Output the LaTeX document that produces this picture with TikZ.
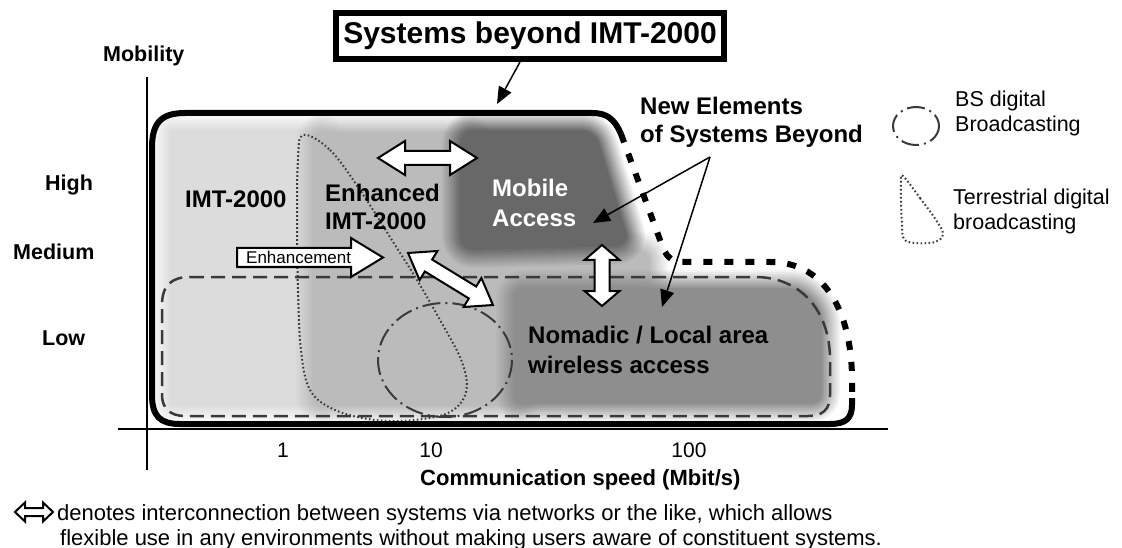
\documentclass[tikz,border=0pt]{standalone}
\usepackage{fontspec}
\setmainfont{Liberation Sans}
\usetikzlibrary{arrows.meta,calc}

\definecolor{lightreg}{HTML}{DCDCDC}
\definecolor{midreg}{HTML}{BBBBBB}
\definecolor{darkreg}{HTML}{686868}
\definecolor{nomadreg}{HTML}{8E8E8E}
\definecolor{lineink}{HTML}{3A3A3A}

% soft-edged grey area: nested strokes whose opacities give a linear
% fall-off outside the solid core
\newcommand\softarea[2]{%
  \foreach \k [evaluate=\k as \op using 1/\k, evaluate=\k as \lw using 4*\k] in {1,...,10}
    {\draw[#1,line width=\lw pt,opacity=\op,line join=round] #2;}
  \fill[#1] #2;}

% white double-headed block arrow: centre x, centre y, angle, half length,
% shaft half width, head half width, head length
\newcommand\dblarrow[7]{%
  \begin{scope}[shift={(#1,#2)},rotate=#3]
    \draw[blockarrow] (-#4,0) -- (-#4+#7,#6) -- (-#4+#7,#5) -- (#4-#7,#5) -- (#4-#7,#6)
      -- (#4,0) -- (#4-#7,-#6) -- (#4-#7,-#5) -- (-#4+#7,-#5) -- (-#4+#7,-#6) -- cycle;
  \end{scope}}

\begin{document}
\begin{tikzpicture}[x=1pt,y=-1pt,
  axisline/.style={line width=1.5pt,black},
  outline/.style={line width=6pt,black,line cap=butt},
  outlinedash/.style={line width=6pt,black,dash pattern=on 9pt off 12pt},
  nomadline/.style={line width=2.5pt,draw=lineink,dash pattern=on 14pt off 7pt},
  bsline/.style={line width=2pt,draw=lineink,dash pattern=on 18pt off 5pt on 2pt off 5pt},
  terrline/.style={line width=2pt,draw=lineink,dash pattern=on 1.6pt off 2.4pt},
  blockarrow/.style={draw=black,line width=2pt,fill=white,line join=miter},
  pointer/.style={line width=1.5pt,black,-{Triangle[length=17pt,width=14pt]}},
  bigbold/.style={font=\fontsize{24}{28}\selectfont\bfseries,anchor=base west,inner sep=0pt},
  axisbold/.style={font=\fontsize{21.5}{26}\selectfont\bfseries,anchor=base west,inner sep=0pt},
  plaintxt/.style={font=\fontsize{21.5}{26}\selectfont,anchor=base west,inner sep=0pt},
  ticktxt/.style={font=\fontsize{21}{25}\selectfont,anchor=base,inner sep=0pt},
  notetxt/.style={font=\fontsize{22}{25}\selectfont,anchor=base west,inner sep=0pt}]

\useasboundingbox (0,0) rectangle (1122,548);

% ---- grey areas of the capability map ----
\softarea{lightreg}{(172,132) rectangle (320,404)}
\softarea{midreg}{[rounded corners=8pt] (316,134) -- (472,134) -- (472,252) -- (648,252)
  -- (648,284) -- (520,284) -- (520,404) -- (316,404) -- cycle}
\softarea{nomadreg}{[rounded corners=8pt] (516,290) -- (782,290) .. controls (805,290) and (820,307) .. (820,330)
  -- (820,402) -- (516,402) -- cycle}
\softarea{darkreg}{[rounded corners=12pt] (462,132) -- (594,132) -- (628,244) -- (462,248) -- cycle}

% ---- nomadic / local area envelope ----
\draw[nomadline] (190,277) -- (755,277) .. controls (800,277) and (830,310) .. (830,360)
  -- (830,395) .. controls (830,410) and (822,416) .. (808,416) -- (185,416)
  .. controls (170,416) and (162,408) .. (162,395) -- (162,305)
  .. controls (162,285) and (172,277) .. (190,277) -- cycle;

% ---- broadcasting footprints ----
\draw[bsline] (445,360) ellipse [x radius=67, y radius=57];
\draw[terrline] plot[smooth cycle,tension=0.6] coordinates {(303,135) (330,150) (360,190) (395,245)
  (417,280) (440,320) (462,362) (466,392) (450,412) (415,420) (375,420) (335,410) (310,390)
  (301,350) (298,290) (297,220) (298,160)};

% ---- axes ----
\coordinate (yTop) at (147,77);
\coordinate (yBot) at (147,470);
\coordinate (xLeft) at (118,429);
\coordinate (xRight) at (888,429);
\draw[axisline] (yTop) -- (yBot);
\draw[axisline] (xLeft) -- (xRight);

% ---- outline of systems beyond IMT-2000 ----
\draw[outline] (852,398) -- (852,405) .. controls (852,418) and (846,424) .. (830,424) -- (180,424)
  .. controls (160,424) and (152,416) .. (152,395) -- (152,148)
  .. controls (152,124) and (160,113) .. (185,113) -- (592,113)
  .. controls (606,113) and (614,118) .. (621,134);
\draw[outlinedash] (621,134) -- (663,248) .. controls (668,259) and (673,262) .. (686,262)
  -- (770,262) .. controls (830,262) and (852,320) .. (852,380) -- (852,400);

% ---- interconnection arrows ----
\dblarrow{427.5}{158}{0}{49.5}{7}{17}{27}
\dblarrow{450.5}{279}{-31.5}{49.8}{7}{17}{24}
\dblarrow{602}{275.5}{-90}{30.5}{7.5}{17.5}{15}

% ---- enhancement arrow ----
\draw[blockarrow] (237,248) -- (351,248) -- (351,238) -- (383,257.5) -- (351,277)
  -- (351,267) -- (237,267) -- cycle;
\node[font=\fontsize{17}{20}\selectfont,anchor=base west,inner sep=0pt] (enh) at (246,263) {Enhancement};

% ---- area labels ----
\node[bigbold] (imt) at (185,208) {IMT-2000};
\node[bigbold] (eimtA) at (325,202) {Enhanced};
\node[bigbold] (eimtB) at (325,230) {IMT-2000};
\node[bigbold,text=white] (mobA) at (492,197) {Mobile};
\node[bigbold,text=white] (mobB) at (492,227) {Access};
\node[bigbold] (nomA) at (528,343) {Nomadic / Local area};
\node[bigbold] (nomB) at (528,373) {wireless access};
\node[bigbold] (newA) at (640,115) {New Elements};
\node[bigbold] (newB) at (640,143) {of Systems Beyond};

% ---- title box and pointers ----
\node[font=\fontsize{30}{34}\selectfont\bfseries,draw,line width=6pt,minimum width=388pt,
  minimum height=46pt,inner sep=0pt] (sysbox) at (530,36) {Systems beyond IMT-2000};
\coordinate (sbTip) at (497,104);
\draw[pointer] ([xshift=-10pt]sysbox.south) -- (sbTip);

\coordinate (neFrom) at (710,157);
\coordinate (maTip) at (593,223);
\coordinate (nlTip) at (662,307);
\draw[pointer] (neFrom) -- (maTip);
\draw[pointer] (neFrom) -- (nlTip);

% ---- axis labels ----
\node[axisbold] (mob) at (103,62) {Mobility};
\node[axisbold] (hi) at (45,191) {High};
\node[axisbold] (med) at (13,260) {Medium};
\node[axisbold] (lo) at (42,345) {Low};
\node[ticktxt] (t1) at (283,457) {1};
\node[ticktxt] (t10) at (431,457) {10};
\node[ticktxt] (t100) at (689,457) {100};
\node[axisbold,font=\fontsize{22}{26}\selectfont\bfseries] (speed) at (420,485) {Communication speed (Mbit/s)};

% ---- legend ----
\draw[bsline] (916,126) ellipse [x radius=23, y radius=19];
\node[plaintxt] (bsA) at (955,107) {BS digital};
\node[plaintxt] (bsB) at (955,132) {Broadcasting};
\draw[terrline] plot[smooth cycle,tension=0.6] coordinates {(903,176) (920,198) (936,220)
  (943,234) (935,242) (915,243) (904,239) (902,225) (901,200) (901,182)};
\node[plaintxt] (trA) at (953,205) {Terrestrial digital};
\node[plaintxt] (trB) at (953,230) {broadcasting};

% ---- note ----
\dblarrow{34}{512}{0}{19}{4}{9.5}{10}
\node[notetxt] (noteA) at (57,520) {denotes interconnection between systems via networks or the like, which allows};
\node[notetxt] (noteB) at (60,545) {flexible use in any environments without making users aware of constituent systems.};
\end{tikzpicture}
\end{document}
